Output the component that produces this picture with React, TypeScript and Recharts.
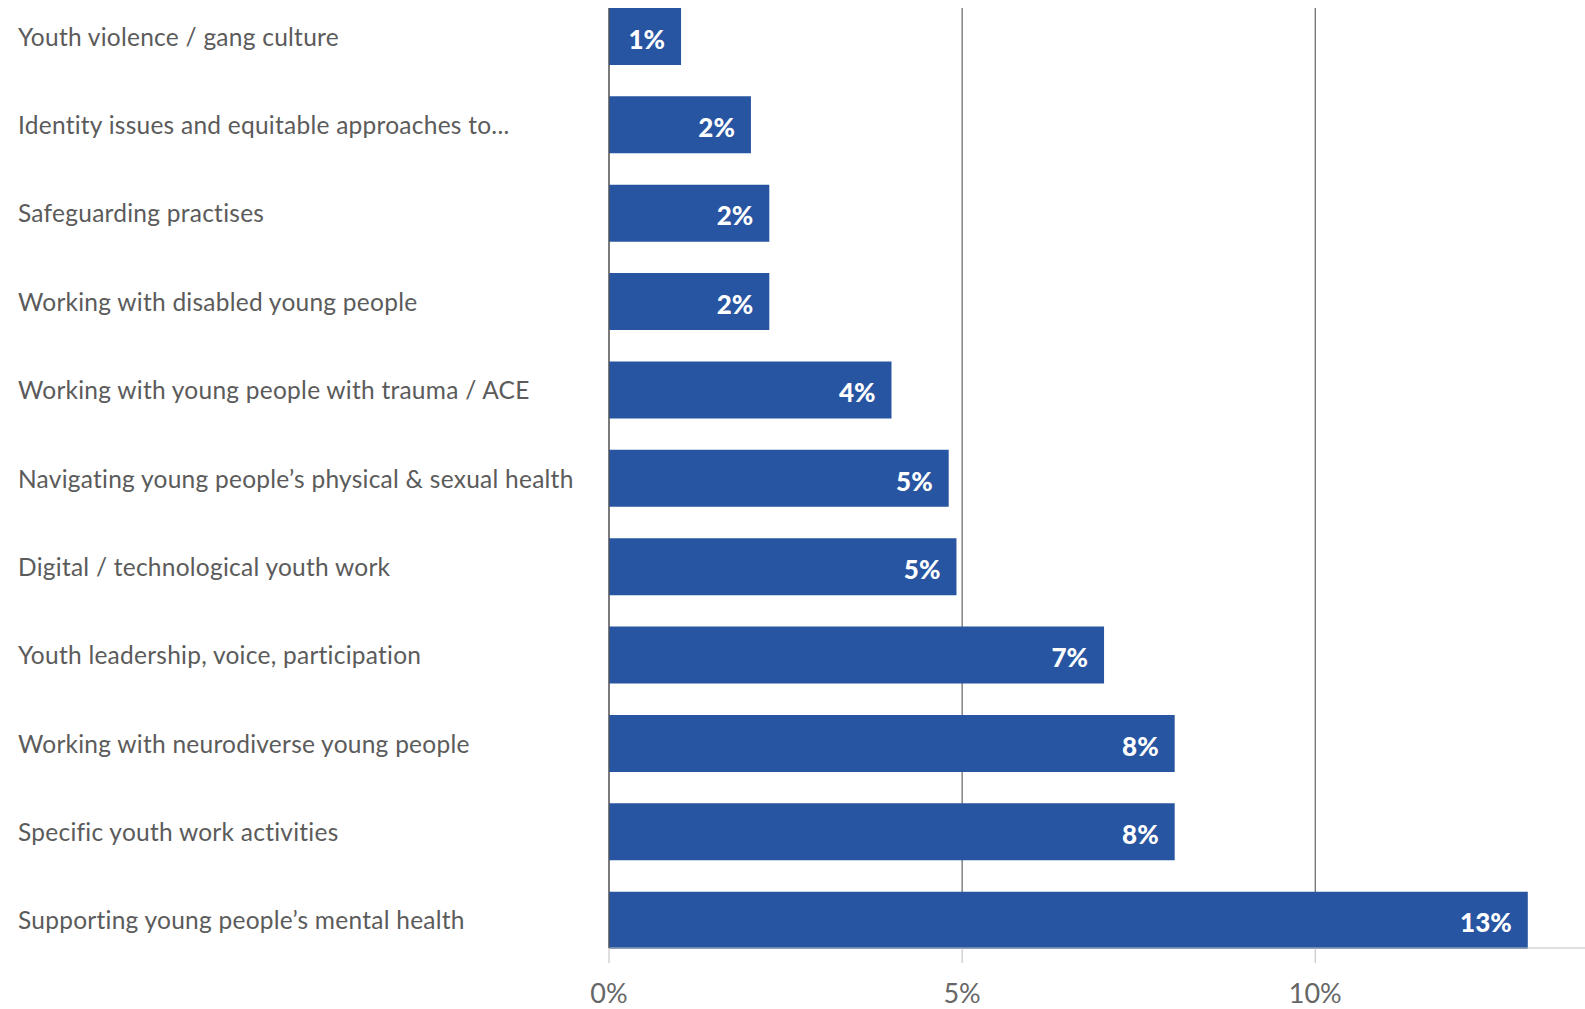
import { Bar, BarChart, CartesianGrid, LabelList, XAxis, YAxis } from "recharts";

const categories = [
  "Youth violence / gang culture",
  "Identity issues and equitable approaches to...",
  "Safeguarding practises",
  "Working with disabled young people",
  "Working with young people with trauma / ACE",
  "Navigating young people’s physical & sexual health",
  "Digital / technological youth work",
  "Youth leadership, voice, participation",
  "Working with neurodiverse young people",
  "Specific youth work activities",
  "Supporting young people’s mental health",
];

const shares = [1.02, 2.01, 2.27, 2.27, 4.0, 4.81, 4.92, 7.01, 8.01, 8.01, 13.01];

const xTicks = [0, 5, 10];

const data = categories.map((name, i) => ({ name, value: shares[i] }));

const FONT = "Lato, 'Open Sans', sans-serif";

function CategoryTick(props: any) {
  const { y, payload } = props;
  return (
    <text
      x={18}
      y={y}
      textAnchor="start"
      dominantBaseline="central"
      fill="#5b5b5b"
      fontSize={24.5}
      letterSpacing={0.25}
      fontFamily={FONT}
    >
      {payload.value}
    </text>
  );
}

export default function App() {
  return (
    <div style={{ position: "absolute", left: 0, top: 0, background: "#fff" }}>
      <BarChart
        width={1585}
        height={1009}
        data={data}
        layout="vertical"
        margin={{ top: 8, right: 0, left: 0, bottom: 0 }}
      >
        {/* vertical grid only at the tick values, behind the bars */}
        <CartesianGrid horizontal={false} syncWithTicks stroke="#444" strokeWidth={1} />
        <XAxis
          type="number"
          domain={[0, 13.82]}
          ticks={xTicks}
          allowDataOverflow
          height={61}
          tickSize={15}
          tickMargin={21}
          axisLine={{ stroke: "#bdbdbd" }}
          tickLine={{ stroke: "#bdbdbd" }}
          tick={{ fontSize: 27, fill: "#666", fontFamily: FONT }}
          tickFormatter={(v) => `${v}%`}
        />
        <YAxis
          type="category"
          dataKey="name"
          width={609}
          padding={{ top: -16, bottom: -16 }}
          axisLine={{ stroke: "#555" }}
          tickLine={false}
          tick={<CategoryTick />}
          interval={0}
        />
        <Bar dataKey="value" fill="#2755a1" barSize={57} isAnimationActive={false}>
          <LabelList
            dataKey="value"
            position="insideRight"
            offset={16}
            dy={3}
            formatter={(v: any) => `${Math.round(Number(v))}%`}
            fill="#fff"
            fontSize={26}
            fontWeight={900}
            fontFamily={FONT}
          />
        </Bar>
      </BarChart>
    </div>
  );
}
